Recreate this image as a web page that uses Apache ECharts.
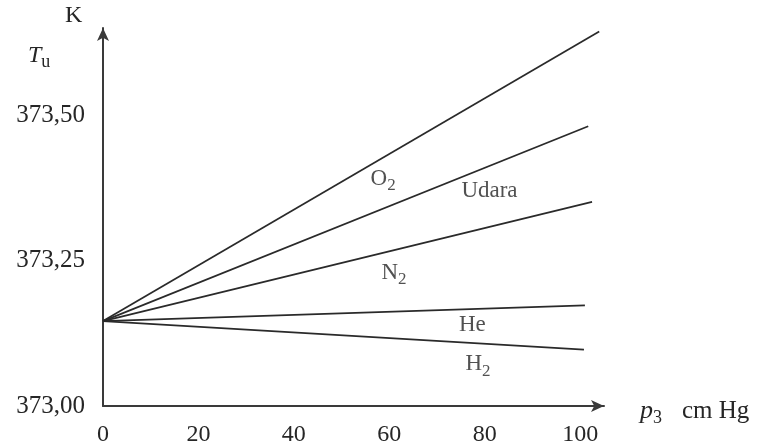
<!DOCTYPE html>
<html><head><meta charset="utf-8">
<script src="https://cdn.jsdelivr.net/npm/echarts@6/dist/echarts.min.js"></script>
<style>html,body{margin:0;padding:0;background:#fff}#c{width:770px;height:447px}</style>
</head><body><div id="c"></div>
<script>
// Data (x: p3 in cm Hg, y: Tu in K)
const xTicks = [0, 20, 40, 60, 80, 100];
const yTicks = [373.00, 373.25, 373.50];
const startX = 0, startY = 373.146;
const gasNames = ['O2', 'Udara', 'N2', 'He', 'H2'];
const endX = [104, 101.7, 102.5, 101, 100.8];
const endY = [373.644, 373.481, 373.351, 373.173, 373.097];
// label annotations [x, y, text]
const labelX = [58.7, 81, 61, 77.4, 78.6];
const labelY = [373.391, 373.369, 373.229, 373.140, 373.072];
const labelText = ['O{s|2}', 'Udara', 'N{s|2}', 'He', 'H{s|2}'];

const font = 'Liberation Serif';
const ink = '#262626';
const series = gasNames.map((n, i) => ({
  type: 'line', name: n, symbol: 'none', silent: true,
  data: [[startX, startY], [endX[i], endY[i]]],
  lineStyle: {color: '#2a2a2a', width: 1.7}
}));
series.push({
  type: 'scatter', symbolSize: 0, silent: true,
  data: labelX.map((x, i) => ({value: [x, labelY[i]], name: labelText[i]})),
  label: {show: true, position: 'inside', formatter: p => p.name,
    fontFamily: font, fontSize: 23, color: ink,
    rich: {s: {fontFamily: font, fontSize: 17, color: ink, verticalAlign: 'bottom', padding: [14, 0, 0, 0]}}}
});

const chart = echarts.init(document.getElementById('c'));
chart.setOption({
  animation: false,
  grid: {left: 103, top: 28, width: 501, height: 381},
  xAxis: {type: 'value', min: 0, max: 105, interval: 20,
    axisLine: {lineStyle: {color: '#3a3a3a', width: 2}, symbol: ['none', 'arrow'], symbolSize: [9, 13]},
    axisTick: {show: false}, splitLine: {show: false},
    axisLabel: {showMaxLabel: false, fontFamily: font, fontSize: 24, color: ink, margin: 17}
  },
  yAxis: {type: 'value', min: 373, max: 373.65, interval: 0.25,
    axisLine: {show: true, lineStyle: {color: '#3a3a3a', width: 2}, symbol: ['none', 'arrow'], symbolSize: [9, 13]},
    axisTick: {show: false}, splitLine: {show: false},
    axisLabel: {showMaxLabel: false, fontFamily: font, fontSize: 25, color: ink, margin: 18,
      formatter: v => v.toFixed(2).replace('.', ',')}
  },
  graphic: [
    {type: 'text', left: 65, top: 4, style: {text: 'K', fontFamily: font, fontSize: 24, fill: ink}},
    {type: 'text', left: 28, top: 44, style: {text: '{t|T}{u|u}', fill: ink,
      rich: {t: {fontFamily: font, fontStyle: 'italic', fontSize: 24, fill: ink},
             u: {fontFamily: font, fontSize: 18, fill: ink, verticalAlign: 'bottom', padding: [12, 0, 0, 0]}}}},
    {type: 'text', left: 640, top: 398, style: {text: '{p|p}{n|3}{c|cm Hg}', fill: ink,
      rich: {p: {fontFamily: font, fontStyle: 'italic', fontSize: 26, fill: ink},
             n: {fontFamily: font, fontSize: 18, fill: ink, verticalAlign: 'bottom', padding: [14, 0, 0, 0]},
             c: {fontFamily: font, fontSize: 25, fill: ink, padding: [0, 0, 0, 20]}}}}
  ],
  series: series
});
</script></body></html>
